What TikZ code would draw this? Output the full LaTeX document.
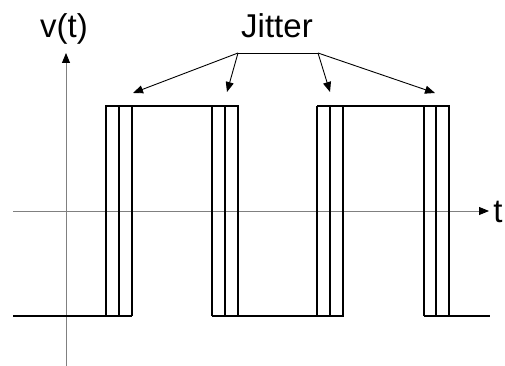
\documentclass[tikz,border=0pt]{standalone}
\usepackage{fontspec}
\setmainfont{Liberation Sans}
\usetikzlibrary{arrows.meta}
\begin{document}
\begin{tikzpicture}[x=1pt,y=-1pt,
  axis/.style={draw=black!50,line width=1pt,-{Triangle[length=10pt,width=8pt,color=black]}},
  sig/.style={draw=black,line width=1.3pt},
  ptr/.style={draw=black,line width=0.9pt,-{Triangle[length=10pt,width=8pt]}},
  lbl/.style={font=\fontsize{33}{38}\selectfont,inner sep=0pt,anchor=base}]
\useasboundingbox (0,0) rectangle (505,366);
% axes
\coordinate (xs) at (13,211);
\coordinate (xe) at (489,211);
\coordinate (ys) at (66,366);
\coordinate (ye) at (66,53);
\draw[axis] (xs) -- (xe);
\draw[axis] (ys) -- (ye);
\node[lbl] (tlab) at (498,222) {t};
\node[lbl] (vlab) at (64,38) {v(t)};
\node[lbl] (jit) at (277,38) {Jitter};
% signal
\draw[sig] (13,316) -- (132,316)
  (106,316) -- (106,106) -- (238,106) -- (238,316) -- (343,316) -- (343,106)
  -- (449,106) -- (449,316) -- (490,316);
\draw[sig] (119,316) -- (119,106) (132,316) -- (132,106)
  (212,316) -- (212,106) (225,316) -- (225,106) (212,316) -- (238,316)
  (317,316) -- (317,106) (330,316) -- (330,106) (317,106) -- (343,106)
  (424,316) -- (424,106) (436,316) -- (436,106) (424,316) -- (449,316);
% jitter pointers
\coordinate (ja) at (238,53);
\coordinate (jb) at (318,53);
\coordinate (p1) at (133,93);
\coordinate (p2) at (227,92);
\coordinate (p3) at (330,92);
\coordinate (p4) at (435,93);
\draw[black,line width=0.9pt] (ja) -- (jb);
\draw[ptr] (ja) -- (p1);
\draw[ptr] (ja) -- (p2);
\draw[ptr] (jb) -- (p3);
\draw[ptr] (jb) -- (p4);
\end{tikzpicture}
\end{document}
